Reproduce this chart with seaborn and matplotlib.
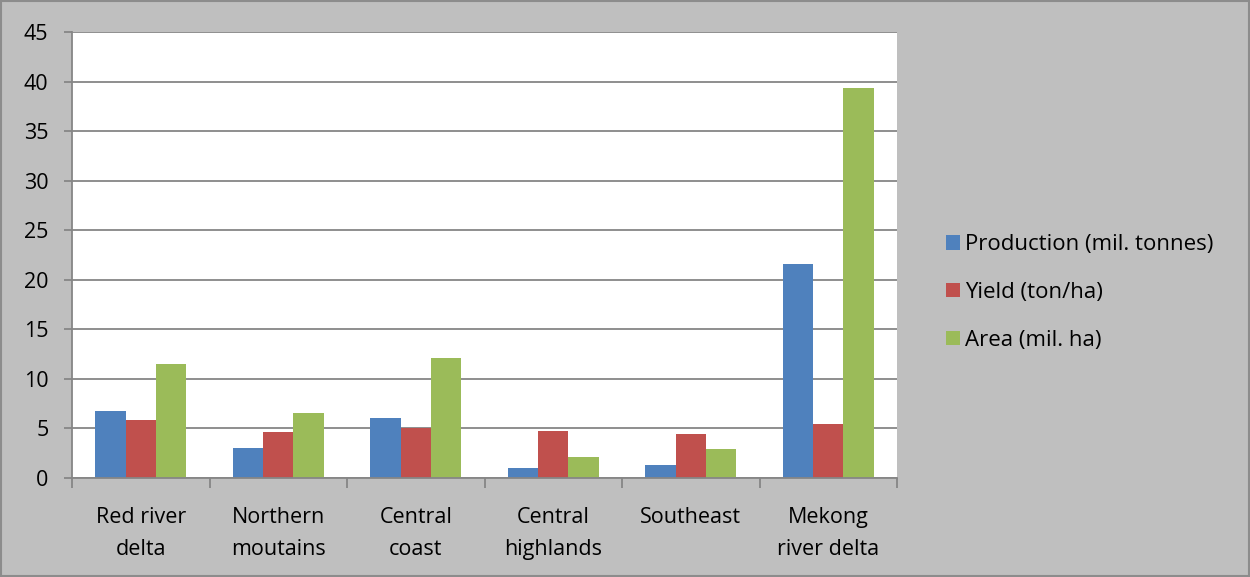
import pandas as pd
import seaborn as sns
import matplotlib.pyplot as plt
from matplotlib.patches import Rectangle

regions = ["Red river\ndelta", "Northern\nmoutains", "Central\ncoast",
           "Central\nhighlands", "Southeast", "Mekong\nriver delta"]
production = [6.8, 3.0, 6.1, 1.0, 1.3, 21.6]
yield_ = [5.9, 4.6, 5.0, 4.75, 4.45, 5.4]
area = [11.5, 6.6, 12.1, 2.1, 2.9, 39.4]
series = ["Production (mil. tonnes)", "Yield (ton/ha)", "Area (mil. ha)"]
colors = ["#4F81BD", "#C0504D", "#9BBB59"]

df = pd.DataFrame({"region": regions * 3,
                   "series": [series[0]] * 6 + [series[1]] * 6 + [series[2]] * 6,
                   "value": production + yield_ + area})

plt.rcParams['font.family'] = ['Open Sans', 'DejaVu Sans']
fig = plt.figure(figsize=(12.5, 5.77), dpi=100, facecolor="#BFBFBF")
fig.patches.append(Rectangle((0.001, 0.001), 0.998, 0.997, transform=fig.transFigure,
                             fill=False, edgecolor="#8C8C8C", linewidth=1.5))
ax = fig.add_axes([0.0576, 0.1716, 0.66, 0.7729])

sns.barplot(data=df, x="region", y="value", hue="series", palette=colors,
            width=0.66, gap=0, ax=ax, errorbar=None, saturation=1)

ax.set_ylim(0, 45)
ax.set_xlim(-0.5, 5.5)
ax.set_yticks(range(0, 46, 5))
ax.yaxis.grid(True, color="#868686", linewidth=1.3)
ax.set_axisbelow(True)
ax.set_xlabel("")
ax.set_ylabel("")
for s in ["top", "right"]:
    ax.spines[s].set_visible(False)
for s in ["left", "bottom"]:
    ax.spines[s].set_color("#868686")
    ax.spines[s].set_linewidth(1.3)
ax.tick_params(axis="x", which="major", length=0, labelsize=15.5, pad=21)
for lbl in ax.get_xticklabels():
    lbl.set_linespacing(1.7)
ax.set_xticks([i - 0.5 for i in range(7)], minor=True)
ax.tick_params(axis="x", which="minor", length=7, color="#868686", width=1.3)
ax.tick_params(axis="y", length=6, color="#868686", width=1.3, labelsize=15.5, pad=11)

handles, labels = ax.get_legend_handles_labels()
ax.get_legend().remove()
fig.legend(handles, labels, loc="center left", bbox_to_anchor=(0.741, 0.493),
           frameon=False, fontsize=16, handlelength=0.6, handleheight=0.6,
           handletextpad=0.25, labelspacing=1.2)

fig.savefig("out.png", dpi=100, facecolor=fig.get_facecolor())
